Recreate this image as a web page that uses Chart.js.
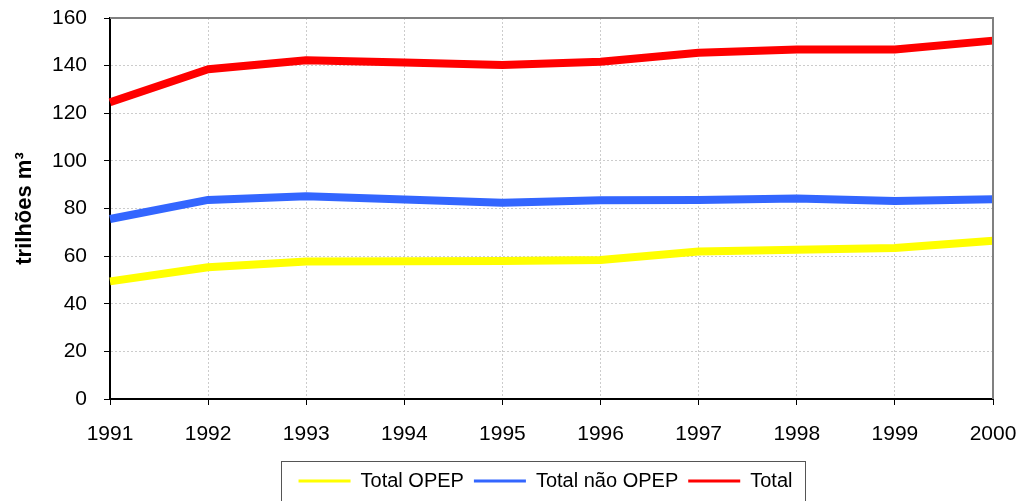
<!DOCTYPE html>
<html>
<head>
<meta charset="utf-8">
<script src="https://cdn.jsdelivr.net/npm/chart.js@4/dist/chart.umd.min.js"></script>
<style>
  html, body { margin: 0; padding: 0; background: #ffffff; }
  #wrap { width: 1021px; height: 501px; }
</style>
</head>
<body>
<div id="wrap"><canvas id="c" width="1021" height="501"></canvas></div>
<script>
const years = ['1991','1992','1993','1994','1995','1996','1997','1998','1999','2000'];
const totalOPEP = [49.4, 55.3, 57.7, 57.8, 58.0, 58.4, 61.9, 62.7, 63.4, 66.5];
const totalNaoOPEP = [75.6, 83.6, 85.1, 83.8, 82.4, 83.5, 83.6, 84.2, 83.2, 83.9];
const total = [124.6, 138.5, 142.3, 141.3, 140.3, 141.6, 145.4, 146.8, 146.8, 150.5];
const seriesNames = ['Total OPEP', 'Total não OPEP', 'Total'];
const yTitle = 'trilhões m³';

const FONT = "'Liberation Sans', Arial, sans-serif";
const LEGEND_PAD = 10;

const framePlugin = {
  id: 'frame',
  afterLayout(chart) {
    const lg = chart.legend;
    if (!lg) return;
    // center legend under the plot area rather than the full canvas
    const dx = Math.round(545 - (lg.left + lg.right) / 2);
    lg.left += dx; lg.right += dx;
  },
  afterDatasetsDraw(chart) {
    const {ctx, chartArea: a} = chart;
    ctx.save();
    ctx.strokeStyle = '#808080';
    ctx.lineWidth = 2;
    ctx.beginPath();
    ctx.moveTo(a.left, a.top);
    ctx.lineTo(a.right, a.top);
    ctx.lineTo(a.right, a.bottom);
    ctx.stroke();
    ctx.restore();
  },
  afterDraw(chart) {
    const lg = chart.legend;
    if (!lg || !lg.lineWidths) return;
    const lw = lg.lineWidths[0];
    const start = (lg.left + LEGEND_PAD + lg.right - lw) / 2;
    const end = start + lw - LEGEND_PAD;
    const ctx = chart.ctx;
    ctx.save();
    ctx.strokeStyle = '#555555';
    ctx.lineWidth = 1;
    ctx.strokeRect(Math.round(start - 18) + 0.5, Math.round(lg.top) + 0.5, Math.round(end - start + 30), 60);
    ctx.restore();
  }
};

new Chart(document.getElementById('c'), {
  type: 'line',
  data: {
    labels: years,
    datasets: [
      { label: seriesNames[0], data: totalOPEP, borderColor: '#ffff00', backgroundColor: '#ffff00' },
      { label: seriesNames[1], data: totalNaoOPEP, borderColor: '#3366ff', backgroundColor: '#3366ff' },
      { label: seriesNames[2], data: total, borderColor: '#ff0000', backgroundColor: '#ff0000' }
    ]
  },
  options: {
    responsive: false,
    animation: false,
    devicePixelRatio: 1,
    layout: { autoPadding: false, padding: { left: 0, right: 28, top: 18, bottom: 0 } },
    elements: {
      line: { borderWidth: 8, tension: 0, borderCapStyle: 'butt', borderJoinStyle: 'round' },
      point: { radius: 0, hoverRadius: 0 }
    },
    plugins: {
      legend: {
        position: 'bottom',
        labels: {
          font: { family: FONT, size: 20 },
          color: '#000000',
          boxWidth: 52,
          boxHeight: 3,
          padding: LEGEND_PAD,
          generateLabels(chart) {
            return chart.data.datasets.map((ds, i) => ({
              text: ds.label, fillStyle: ds.borderColor, strokeStyle: ds.borderColor,
              lineWidth: 0, hidden: false, datasetIndex: i, fontColor: '#000000'
            }));
          }
        }
      },
      tooltip: { enabled: false }
    },
    scales: {
      x: {
        type: 'category',
        offset: false,
        grid: { display: true, offset: false, color: '#cccccc', tickColor: '#000000', tickLength: 6, drawOnChartArea: true },
        border: { display: true, color: '#000000', width: 2, dash: [2, 2] },
        ticks: { font: { family: FONT, size: 21 }, color: '#000000', padding: 17, maxRotation: 0, autoSkip: false },
        afterFit(scale) { scale.height = 62; scale.paddingLeft = 0; scale.paddingRight = 0; }
      },
      y: {
        min: 0, max: 160,
        ticks: { stepSize: 20, font: { family: FONT, size: 21 }, color: '#000000', padding: 17 },
        grid: { color: '#cccccc', tickColor: '#000000', tickLength: 6 },
        border: { display: true, color: '#000000', width: 2, dash: [2, 2] },
        title: { display: true, text: yTitle, font: { family: FONT, size: 22, weight: 'bold' }, color: '#000000', padding: { top: 12, bottom: 0 } },
        afterFit(scale) { scale.width = 110; scale.paddingTop = 0; scale.paddingBottom = 0; }
      }
    }
  },
  plugins: [framePlugin]
});
</script>
</body>
</html>
